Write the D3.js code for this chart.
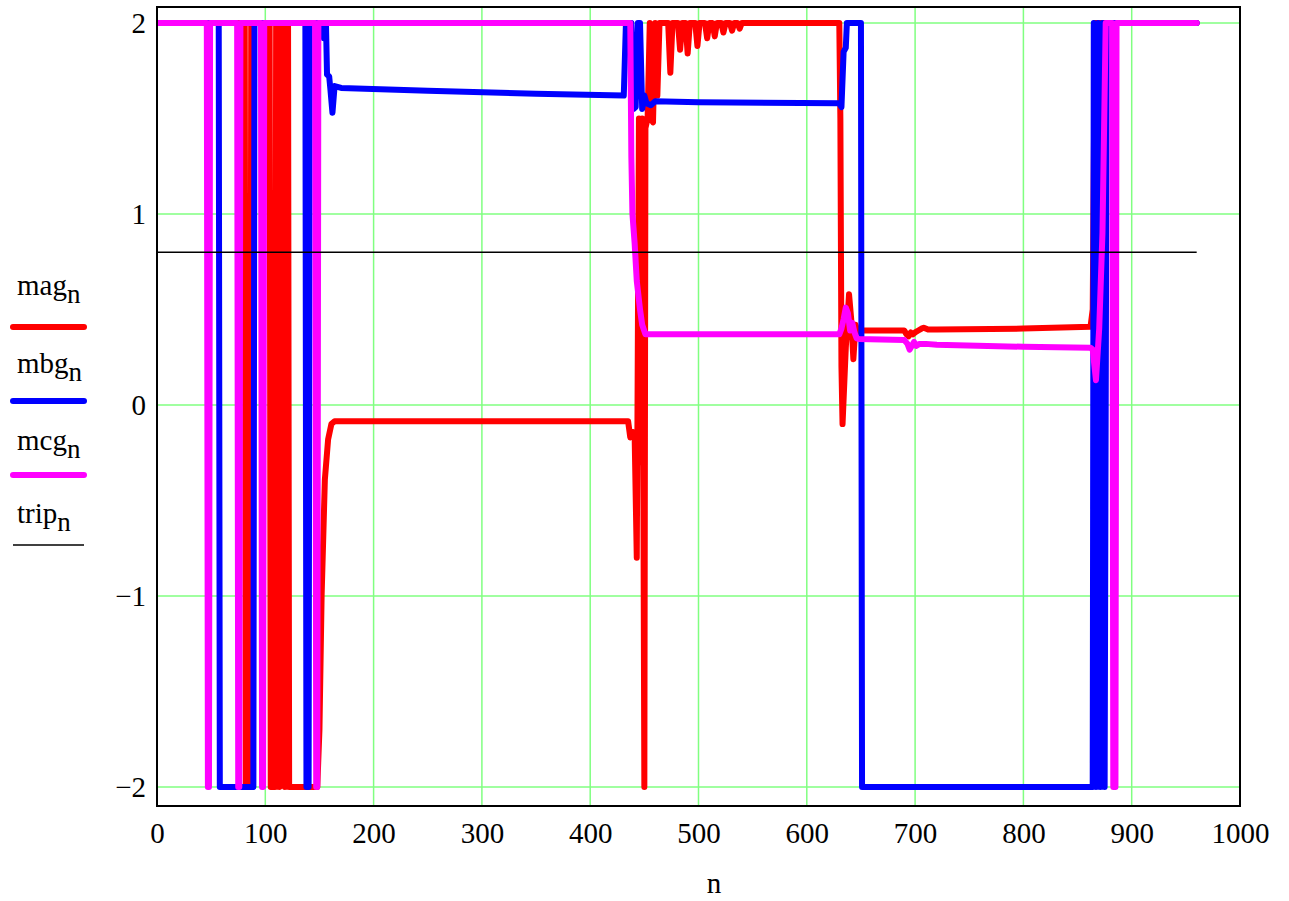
<!DOCTYPE html>
<html><head><meta charset="utf-8">
<script src="https://cdn.jsdelivr.net/npm/d3@7"></script>
<style>body{margin:0;background:#fff}svg{display:block}</style>
</head><body>
<svg id="c" width="1289" height="901"></svg>
<script>
// ---- data: [n, value] pairs ----
const xTicks = [0,100,200,300,400,500,600,700,800,900,1000];
const yTicks = [-2,-1,0,1,2];
const legendNames = ["mag","mbg","mcg","trip"];

const magPts = [[0,2],[81,2],[82,-2],[86,-2],[87,2],
  [104,2],[105,-2],[109,-2],[110,2],[112,2],[113,-2],[114,2],[117,2],[118,-2],[119,2],[121,2],[122,-2],
  [148,-2],[150,-1.7],[152,-1.0],[155,-0.39],[158,-0.18],[161,-0.1],[164,-0.085],
  [435,-0.085],[437,-0.17],[439,-0.14],[441,-0.15],[443,-0.8],[445,1.5],[447,-0.3],[448,1.5],[450,-2],[451,1.45],[453,1.5],[455,2],[456,1.5],[458,1.48],[460,2],[462,1.62],[464,2],
  [472,2],[474,1.74],[476,2],[481,2],[483,1.86],[485,2],[488,2],[490,1.84],[492,2],[497,2],[499,1.88],[501,2],[506,2],[508,1.92],[510,2],[513,2],[515,1.93],[517,2],[521,2],[523,1.95],[525,2],[529,2],[531,1.96],[533,2],[536,2],[538,1.97],[540,2],
  [630,2],[631,1.5],[632,0.2],[633,-0.1],[636,0.3],[639,0.58],[641,0.45],[643,0.24],[645,0.42],[647,0.38],[650,0.39],
  [690,0.39],[692,0.37],[694,0.36],[696,0.38],[698,0.37],[700,0.38],[703,0.39],[706,0.40],[708,0.405],[712,0.395],[720,0.395],[800,0.40],[862,0.41],[864,0.5],[866,2],[960,2]];

const mbgPts = [[0,2],[57,2],[58,-2],[89,-2],[90,2],[137,2],[138,-2],[140,-2],[141,2],
  [152,2],[154,1.92],[156,2],[157,1.73],[159,1.72],[160,1.66],[162,1.53],[164,1.67],[170,1.66],[250,1.645],[350,1.63],[431,1.62],
  [433,2],[438,2],[440,1.55],[442,1.56],[444,2],[446,2],[448,1.55],[450,1.62],[452,1.58],[456,1.57],[460,1.59],[500,1.585],[630,1.58],
  [632,1.56],[634,1.85],[636,1.87],[637,2],[650,2],[651,-2],[864,-2],
  [865,2],[867,-2],[869,2],[871,-2],[873,2],[875,-2],[877,2],[960,2]];

const mcgPts = [[0,2],[46,2],[47,-2],[48,-2],[49,2],[74,2],[75,-2],[76,-2],[77,2],[96,2],[97,-2],[98,-2],[99,2],[146,2],[147,-2],[148,-2],[149,2],
  [436,2],[437,2],[438,1.3],[439,1.0],[441,0.85],[443,0.65],[446,0.5],[448,0.42],[451,0.37],[630,0.37],
  [632,0.40],[634,0.45],[636,0.51],[638,0.48],[640,0.39],[642,0.43],[644,0.38],[646,0.35],[648,0.345],
  [690,0.34],[693,0.32],[695,0.29],[697,0.31],[699,0.33],[701,0.31],[704,0.32],[710,0.32],[720,0.315],[800,0.305],[862,0.30],
  [864,0.29],[867,0.13],[870,0.4],[873,0.9],[876,2],[882,2],[883,-2],[885,-2],[886,2],[960,2]];

const tripPts = [[0,0.8],[960,0.8]];

// ---- layout ----
const svg = d3.select("#c");
const L = 157, R = 1240, T = 7, B = 806;
const x = d3.scaleLinear().domain([0,1000]).range([L,R]);
const y = d3.scaleLinear().domain([-2,2]).range([787,23]);
const font = "'Liberation Serif','Times New Roman',serif";

// grid
const grid = svg.append("g").attr("stroke","#80ff80").attr("stroke-width",1.5);
grid.selectAll("line.v").data(xTicks.slice(1,-1)).join("line")
  .attr("x1",d=>x(d)).attr("x2",d=>x(d)).attr("y1",T).attr("y2",B);
grid.selectAll("line.h").data(yTicks).join("line")
  .attr("x1",L).attr("x2",R).attr("y1",d=>y(d)).attr("y2",d=>y(d));

// series
svg.append("defs").append("clipPath").attr("id","clip").append("rect")
  .attr("x",L).attr("y",T).attr("width",R-L).attr("height",B-T);
const line = d3.line().x(d=>x(d[0])).y(d=>y(d[1]));
const series = [
  {P:magPts,c:"#ff0000",w:6},
  {P:mbgPts,c:"#0000ff",w:6},
  {P:mcgPts,c:"#ff00ff",w:6},
  {P:tripPts,c:"#000000",w:1.5}
];
const pg = svg.append("g").attr("clip-path","url(#clip)");
series.forEach(s=>{
  pg.append("path").datum(s.P)
    .attr("d",line).attr("fill","none").attr("stroke",s.c)
    .attr("stroke-width",s.w).attr("stroke-linejoin","round").attr("stroke-linecap",s.w>2?"round":"butt");
});

// frame
svg.append("rect").attr("x",L).attr("y",T).attr("width",R-L).attr("height",B-T)
  .attr("fill","none").attr("stroke","#000").attr("stroke-width",2);

// axes
const fmt = d=>String(d).replace("-","\u2212");
const xa = svg.append("g").attr("transform",`translate(0,${B})`)
  .call(d3.axisBottom(x).tickValues(xTicks).tickSize(0).tickPadding(16).tickFormat(fmt));
const ya = svg.append("g").attr("transform",`translate(${L},0)`)
  .call(d3.axisLeft(y).tickValues(yTicks).tickSize(0).tickPadding(11).tickFormat(fmt));
[xa,ya].forEach(a=>{
  a.select(".domain").remove();
  a.selectAll("text").attr("font-family",font).attr("font-size",29).attr("fill","#000");
});
svg.append("text").attr("x",714).attr("y",893).attr("text-anchor","middle")
  .attr("font-family",font).attr("font-size",29).text("n");

// legend
const legY = [295,373,450,523];
const lineY = [327,401,475,545];
const lg = svg.append("g");
legendNames.forEach((nm,i)=>{
  const t = lg.append("text").attr("x",17).attr("y",legY[i])
    .attr("font-family",font).attr("font-size",29);
  t.append("tspan").text(nm);
  t.append("tspan").attr("dy",8).attr("font-size",27).text("n");
  lg.append("line").attr("x1",13).attr("x2",84).attr("y1",lineY[i]).attr("y2",lineY[i])
    .attr("stroke",series[i].c).attr("stroke-width",series[i].w)
    .attr("stroke-linecap",series[i].w>2?"round":"butt");
});
</script>
</body></html>
